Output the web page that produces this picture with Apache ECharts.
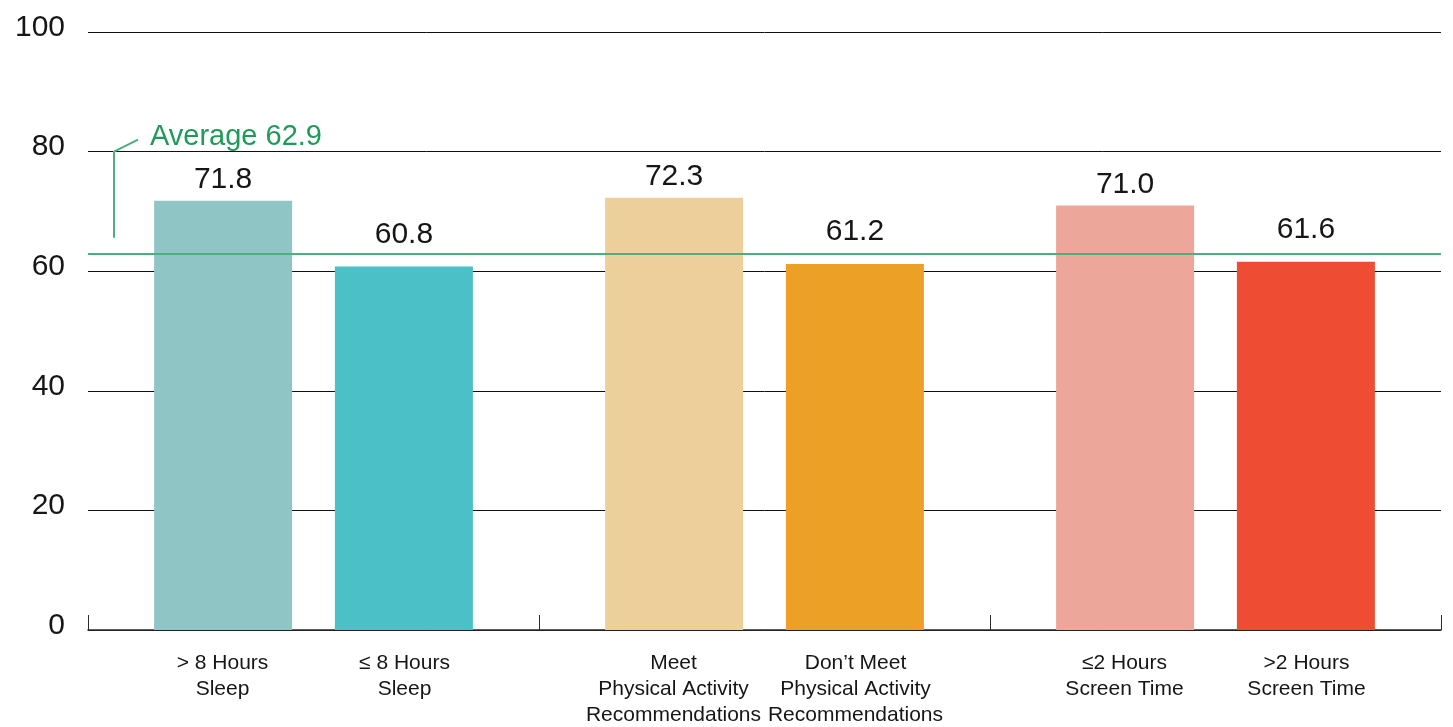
<!DOCTYPE html>
<html>
<head>
<meta charset="utf-8">
<title>Average score by health behaviour</title>
<script src="https://cdn.jsdelivr.net/npm/echarts@6/dist/echarts.min.js"></script>
<style>
  html, body { margin: 0; padding: 0; background: #ffffff; }
  #chart { width: 1453px; height: 727px; }
</style>
</head>
<body>
<div id="chart"></div>
<script>
// Behaviour groups (one category per pair of bars)
const groups = ['Sleep', 'Physical Activity', 'Screen Time'];

// Labels under the first and second bar of each group
const firstLabels = ['> 8 Hours\nSleep', 'Meet\nPhysical Activity\nRecommendations', '≤2 Hours\nScreen Time'];
const secondLabels = ['≤ 8 Hours\nSleep', 'Don’t Meet\nPhysical Activity\nRecommendations', '>2 Hours\nScreen Time'];

// Values of the first and second bar of each group
const firstValues = [71.8, 72.3, 71.0];
const secondValues = [60.8, 61.2, 61.6];

// Bar colours per group
const firstColors = ['#8fc5c5', '#eccf9b', '#eda69a'];
const secondColors = ['#4bc0c6', '#eca025', '#ef4d33'];

// Overall average
const averageValue = 62.9;
const averageLabel = 'Average 62.9';

// Y-axis range
const yMin = 0, yMax = 100, yStep = 20;

const FONT = '"Liberation Sans", Arial, sans-serif';
const TEXT = '#161616';
const GREEN_TEXT = '#1f9a58';
const GREEN_LINE = '#4fae7e';

const chart = echarts.init(document.getElementById('chart'), null, { renderer: 'canvas' });

function pairLabel(idx) {
  const a = firstLabels[idx].split('\n');
  const b = secondLabels[idx].split('\n');
  const n = Math.max(a.length, b.length);
  const lines = [];
  for (let i = 0; i < n; i++) {
    lines.push('{a|' + (a[i] || '') + '}{b|' + (b[i] || '') + '}');
  }
  return lines.join('\n');
}

const labelToken = {
  width: 182, align: 'center', fontSize: 21, lineHeight: 26,
  color: TEXT, fontFamily: FONT
};

function valueLabel(distance) {
  return {
    show: true, position: 'top', distance: distance,
    fontSize: 30, color: TEXT, fontFamily: FONT,
    formatter: p => p.value.toFixed(1)
  };
}

const option = {
  backgroundColor: '#ffffff',
  animation: false,
  grid: { left: 88, right: 12, top: 32, bottom: 97, containLabel: false },
  xAxis: {
    type: 'category',
    data: groups,
    boundaryGap: true,
    axisLine: { show: true, lineStyle: { color: '#2a2a2a', width: 1.5 } },
    axisTick: { show: true, inside: true, length: 15, lineStyle: { color: '#2a2a2a', width: 1 } },
    axisLabel: {
      interval: 0,
      margin: 20,
      formatter: function (value, idx) { return pairLabel(idx); },
      rich: { a: labelToken, b: labelToken }
    },
    splitLine: { show: false }
  },
  yAxis: {
    type: 'value',
    min: yMin, max: yMax, interval: yStep,
    axisLine: { show: false },
    axisTick: { show: false },
    axisLabel: {
      fontSize: 30, color: TEXT, fontFamily: FONT, margin: 23,
      verticalAlign: 'bottom', lineHeight: 9
    },
    splitLine: { show: true, lineStyle: { color: '#111111', width: 1 } }
  },
  series: [
    {
      name: 'first',
      type: 'bar',
      barWidth: 138,
      barGap: '31%',
      data: firstValues.map((v, i) => ({ value: v, itemStyle: { color: firstColors[i] } })),
      label: valueLabel(6),
      markLine: {
        silent: true,
        symbol: 'none',
        label: { show: false },
        lineStyle: { color: GREEN_LINE, width: 2, type: 'solid' },
        data: [{ yAxis: averageValue }]
      },
      z: 3
    },
    {
      name: 'second',
      type: 'bar',
      barWidth: 138,
      barGap: '31%',
      data: secondValues.map((v, i) => ({ value: v, itemStyle: { color: secondColors[i] } })),
      label: valueLabel(17),
      z: 3
    }
  ]
};

chart.setOption(option);

// Callout for the average line: a leader rising from the line to the label
function drawAverageCallout() {
  const avgY = chart.convertToPixel({ yAxisIndex: 0 }, averageValue);
  const topY = chart.convertToPixel({ yAxisIndex: 0 }, 80);
  const x0 = option.grid.left + 26;
  chart.setOption({
    graphic: [
      {
        type: 'polyline',
        shape: { points: [[x0, avgY - 16], [x0, topY], [x0 + 24, topY - 12]] },
        style: { stroke: GREEN_LINE, lineWidth: 2, fill: null },
        silent: true,
        z: 10
      },
      {
        type: 'text',
        x: x0 + 36,
        y: topY - 15,
        style: {
          text: averageLabel,
          fontSize: 29,
          fontFamily: FONT,
          fill: GREEN_TEXT,
          verticalAlign: 'middle'
        },
        silent: true,
        z: 10
      }
    ]
  });
}
drawAverageCallout();
</script>
</body>
</html>
